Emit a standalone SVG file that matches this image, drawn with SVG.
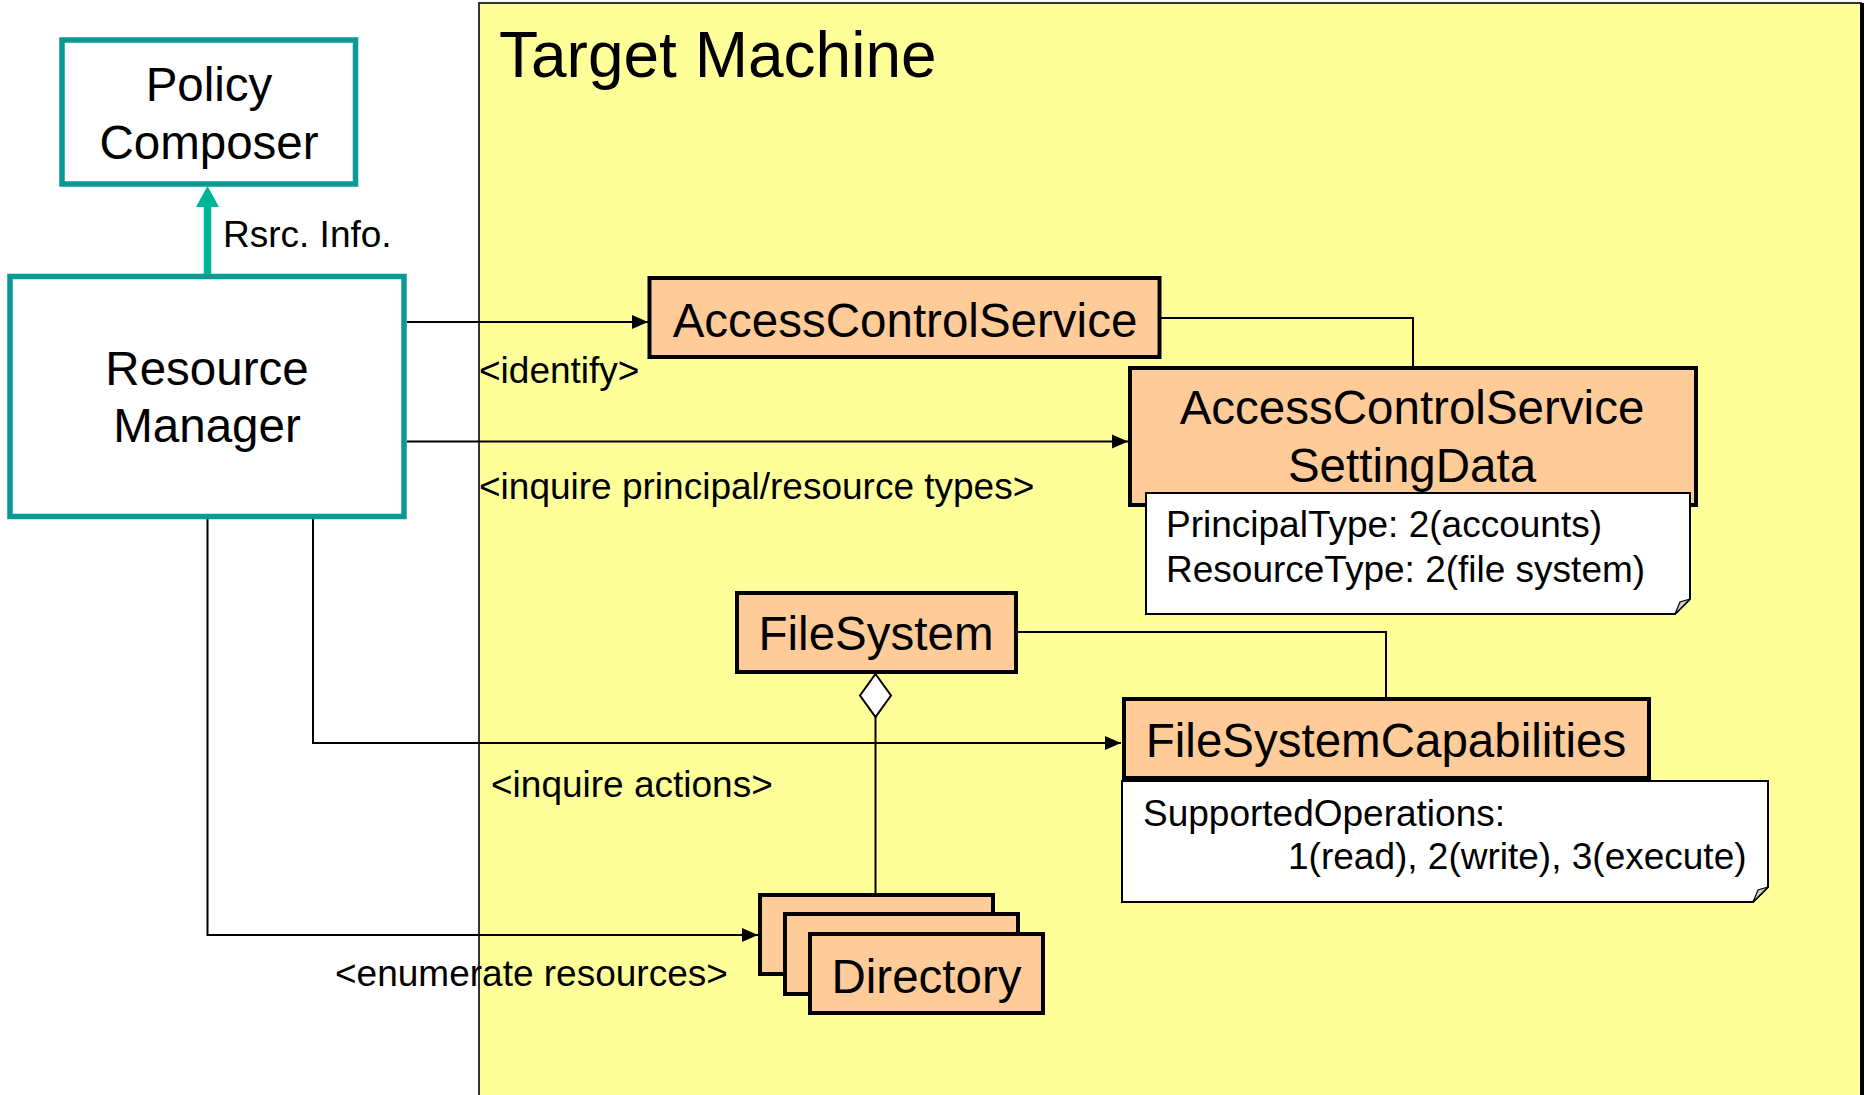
<svg xmlns="http://www.w3.org/2000/svg" width="1865" height="1095" viewBox="0 0 1865 1095">
  <defs>
    <style>
      text { font-family: "Liberation Sans", Arial, sans-serif; fill: #000; }
      .ext { fill: #ffffff; stroke: #0a9a96; stroke-width: 5.5; }
      .cls { fill: #ffcc99; stroke: #000; stroke-width: 4; }
      .note { fill: #ffffff; stroke: #000; stroke-width: 2; }
      .fold { fill: #d0d0d0; stroke: #000; stroke-width: 1.2; }
      .big { font-size: 47.5px; text-anchor: middle; }
      .lbl { font-size: 37px; }
      .conn { fill: none; stroke: #000; stroke-width: 2; }
    </style>
    <marker id="arrow" markerUnits="userSpaceOnUse" markerWidth="16" markerHeight="16" viewBox="0 0 16 16" refX="16" refY="8" orient="auto">
      <path d="M0,1 L16,8 L0,15 Z" fill="#000"/>
    </marker>
  </defs>

  <rect width="1865" height="1095" fill="#ffffff"/>

  <!-- Target Machine boundary -->
  <g id="target-machine">
    <rect x="479" y="3" width="1382" height="1100" fill="#ffff99" stroke="#333" stroke-width="2"/>
    <line x1="1862" y1="3" x2="1862" y2="1095" stroke="#000" stroke-width="4"/>
    <text x="499" y="77" font-size="64">Target Machine</text>
  </g>

  <!-- Connectors -->
  <g id="connectors">
    <!-- Rsrc. Info. flow -->
    <line x1="207.5" y1="274" x2="207.5" y2="204" stroke="#00b39b" stroke-width="7.5"/>
    <polygon points="196,207 219,207 207.5,186" fill="#00b39b"/>
    <text class="lbl" x="223" y="247">Rsrc. Info.</text>

    <!-- identify -->
    <line class="conn" x1="407" y1="322" x2="648" y2="322" marker-end="url(#arrow)"/>
    <text class="lbl" x="479" y="383">&lt;identify&gt;</text>

    <!-- inquire principal/resource types -->
    <line class="conn" x1="407" y1="441.5" x2="1128" y2="441.5" marker-end="url(#arrow)"/>
    <text class="lbl" x="479" y="499">&lt;inquire principal/resource types&gt;</text>

    <!-- inquire actions -->
    <polyline class="conn" points="313,519 313,743 1121,743" marker-end="url(#arrow)"/>
    <text class="lbl" x="491" y="797">&lt;inquire actions&gt;</text>

    <!-- enumerate resources -->
    <polyline class="conn" points="207.5,519 207.5,935 758,935" marker-end="url(#arrow)"/>
    <text class="lbl" x="335" y="986">&lt;enumerate resources&gt;</text>

    <!-- associations -->
    <polyline class="conn" points="1161,318 1413,318 1413,366"/>
    <polyline class="conn" points="1017,632 1386,632 1386,697"/>

    <!-- aggregation FileSystem - Directory -->
    <line class="conn" x1="875.5" y1="717" x2="875.5" y2="893"/>
    <polygon points="875.5,674 891,695.5 875.5,717 860,695.5" fill="#ffffff" stroke="#000" stroke-width="2"/>
  </g>

  <!-- Policy Composer -->
  <g id="policy-composer">
    <rect class="ext" x="62" y="40" width="293.5" height="144"/>
    <text class="big" x="209" y="101">Policy</text>
    <text class="big" x="209" y="159">Composer</text>
  </g>

  <!-- Resource Manager -->
  <g id="resource-manager">
    <rect class="ext" x="10" y="276.5" width="394" height="240"/>
    <text class="big" x="207" y="385">Resource</text>
    <text class="big" x="207" y="442">Manager</text>
  </g>

  <!-- AccessControlService -->
  <g id="access-control-service">
    <rect class="cls" x="649.5" y="278" width="510" height="79" stroke-width="3.5"/>
    <text class="big" x="905" y="337">AccessControlService</text>
  </g>

  <!-- AccessControlServiceSettingData with its values note -->
  <g id="acs-setting-data">
    <rect class="cls" x="1130" y="368" width="566" height="137" stroke-width="4.5"/>
    <text class="big" x="1412" y="424">AccessControlService</text>
    <text class="big" x="1412" y="482">SettingData</text>
    <path class="note" d="M1146,493 H1690 V599 L1675,614 H1146 Z"/>
    <path class="fold" d="M1690,599 L1675,614 L1680,602 Z"/>
    <text class="lbl" x="1166" y="537">PrincipalType: 2(accounts)</text>
    <text class="lbl" x="1166" y="582">ResourceType: 2(file system)</text>
  </g>

  <!-- FileSystem -->
  <g id="file-system">
    <rect class="cls" x="737" y="593" width="279" height="79"/>
    <text class="big" x="876" y="650">FileSystem</text>
  </g>

  <!-- FileSystemCapabilities with its values note -->
  <g id="file-system-capabilities">
    <rect class="cls" x="1124" y="699" width="525" height="79"/>
    <path class="note" d="M1122,781 H1768 V887 L1753,902 H1122 Z"/>
    <path class="fold" d="M1768,887 L1753,902 L1758,890 Z"/>
    <text class="big" x="1386" y="757">FileSystemCapabilities</text>
    <text class="lbl" x="1143" y="826">SupportedOperations:</text>
    <text class="lbl" x="1288" y="869">1(read), 2(write), 3(execute)</text>
  </g>

  <!-- Directory instances -->
  <g id="directory">
    <rect class="cls" x="760" y="895" width="233" height="79"/>
    <rect class="cls" x="785" y="914" width="233" height="80"/>
    <rect class="cls" x="810" y="934" width="233" height="79"/>
    <text class="big" x="926.5" y="993">Directory</text>
  </g>
</svg>
